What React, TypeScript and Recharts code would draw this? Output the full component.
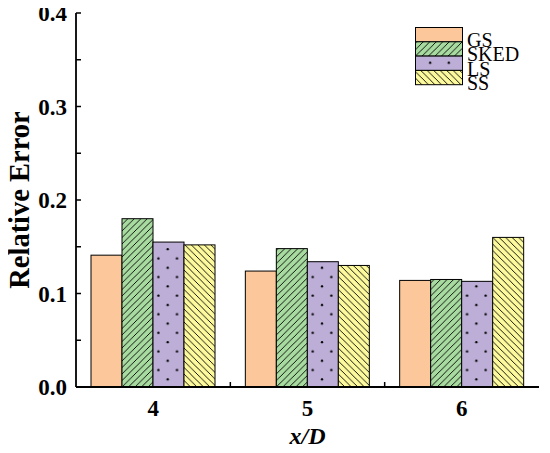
import React from 'react';
import { BarChart, Bar, XAxis, YAxis, Legend } from 'recharts';

// x/D stations
const categories = ['4', '5', '6'];

// relative error per model
const gsValues = [0.141, 0.124, 0.114];
const skedValues = [0.180, 0.148, 0.115];
const lsValues = [0.155, 0.134, 0.113];
const ssValues = [0.152, 0.130, 0.160];

const seriesNames = ['GS', 'SKED', 'LS', 'SS'];
const yTicks = [0, 0.05, 0.1, 0.15, 0.2, 0.25, 0.3, 0.35, 0.4];

const FONT = '"Liberation Serif", "Times New Roman", serif';

const fills: Record<string, string> = {
  GS: '#FCC79A',
  SKED: 'url(#pat-sked)',
  LS: 'url(#pat-ls)',
  SS: 'url(#pat-ss)',
};

const data = categories.map((c, i) => ({
  x: c,
  GS: gsValues[i],
  SKED: skedValues[i],
  LS: lsValues[i],
  SS: ssValues[i],
}));

function Patterns() {
  return (
    <defs>
      <pattern id="pat-sked" patternUnits="userSpaceOnUse" width={6.5} height={6.5}>
        <rect width={6.5} height={6.5} fill="#A8DBA0" />
        <path d="M-1,1 L1,-1 M0,6.5 L6.5,0 M5.5,7.5 L7.5,5.5" stroke="#000" strokeWidth={0.9} />
      </pattern>
      <pattern id="pat-ss" patternUnits="userSpaceOnUse" width={6.5} height={6.5}>
        <rect width={6.5} height={6.5} fill="#FDFA9E" />
        <path d="M-1,5.5 L1,7.5 M0,0 L6.5,6.5 M5.5,-1 L7.5,1" stroke="#000" strokeWidth={0.9} />
      </pattern>
      <pattern id="pat-ls" patternUnits="userSpaceOnUse" width={18.6} height={18.6}>
        <rect width={18.6} height={18.6} fill="#BCAED6" />
        <circle cx={14.7} cy={10.9} r={1.2} fill="#000" />
        <circle cx={5.4} cy={1.6} r={1.2} fill="#000" />
      </pattern>
    </defs>
  );
}

// draw bar in a frame anchored at its bottom-left so patterns line up per bar
function PatternBar(props: any) {
  const { x, y, width, height, fill } = props;
  if (!height || height <= 0) return null;
  return (
    <g transform={`translate(${x},${y + height})`}>
      <rect x={0} y={-height} width={width} height={height} fill={fill} stroke="#000" strokeWidth={1} />
    </g>
  );
}

function LeftTick(props: any) {
  const { x, y, payload } = props;
  const major = Math.abs(Math.round(payload.value * 10) - payload.value * 10) < 1e-6;
  return (
    <g>
      <line x1={x} x2={x + 5} y1={y} y2={y} stroke="#000" strokeWidth={1.5} />
      {major && (
        <text x={x - 9} y={y + 8} textAnchor="end" fontFamily={FONT} fontWeight="bold" fontSize={23} fill="#000">
          {payload.value.toFixed(1)}
        </text>
      )}
    </g>
  );
}

function RightTick(props: any) {
  const { x, y } = props;
  return <line x1={x} x2={x - 5} y1={y} y2={y} stroke="#000" strokeWidth={1.5} />;
}

function BottomTick(props: any) {
  const { x, y, payload, index } = props;
  const half = payload.offset || 77;
  return (
    <g>
      {index < categories.length - 1 && (
        <line x1={x + half} x2={x + half} y1={y} y2={y - 5} stroke="#000" strokeWidth={1.5} />
      )}
      <text x={x} y={y + 29} textAnchor="middle" fontFamily={FONT} fontWeight="bold" fontSize={23} fill="#000">
        {payload.value}
      </text>
    </g>
  );
}

function TopTick(props: any) {
  const { x, y, payload, index } = props;
  const half = payload.offset || 77;
  return (
    <g>
      <line x1={x} x2={x} y1={y} y2={y + 5} stroke="#000" strokeWidth={1.5} />
      {index < categories.length - 1 && (
        <line x1={x + half} x2={x + half} y1={y} y2={y + 5} stroke="#000" strokeWidth={1.5} />
      )}
    </g>
  );
}

function LegendBox() {
  const rowH = 14.3;
  return (
    <svg width={130} height={80} style={{ overflow: 'visible' }}>
      {seriesNames.map((name, i) => (
        <g key={name}>
          <g transform={`translate(0.5,${i * rowH + rowH + 0.5})`}>
            <rect x={0} y={-rowH} width={47} height={rowH} fill={fills[name]} stroke="#000" strokeWidth={1} />
          </g>
          <text x={52} y={i * rowH + 20} fontFamily={FONT} fontSize={20} fill="#000">
            {name}
          </text>
        </g>
      ))}
    </svg>
  );
}

export default function App() {
  const axisLine = { stroke: '#000', strokeWidth: 1.8 };
  return (
    <div style={{ margin: -8, width: 550, height: 453, background: '#fff', position: 'relative' }}>
      <BarChart
        width={550}
        height={453}
        data={data}
        margin={{ top: 13, right: 11, bottom: 0, left: 0 }}
        barCategoryGap={15}
        barGap={0}
      >
        <Patterns />
        <XAxis
          xAxisId="b"
          dataKey="x"
          height={66}
          axisLine={axisLine}
          tickLine={false}
          tickSize={0}
          tickMargin={0}
          tick={<BottomTick />}
          label={{
            value: 'x/D',
            position: 'insideBottom',
            offset: 9,
            fontFamily: FONT,
            fontSize: 24,
            fontWeight: 'bold',
            fontStyle: 'italic',
            fill: '#000',
          }}
        />
        <XAxis
          xAxisId="t"
          dataKey="x"
          orientation="top"
          height={0}
          axisLine={axisLine}
          tickLine={false}
          tickSize={0}
          tickMargin={0}
          tick={<TopTick />}
        />
        <YAxis
          yAxisId="l"
          width={76}
          domain={[0, 0.4]}
          ticks={yTicks}
          interval={0}
          axisLine={axisLine}
          tickLine={false}
          tickSize={0}
          tickMargin={0}
          tick={<LeftTick />}
          label={{
            value: 'Relative Error',
            angle: -90,
            position: 'insideLeft',
            offset: 19,
            fontFamily: FONT,
            fontSize: 28.5,
            fontWeight: 'bold',
            fill: '#000',
            style: { textAnchor: 'middle' },
          }}
        />
        <YAxis
          yAxisId="r"
          orientation="right"
          width={0}
          domain={[0, 0.4]}
          ticks={yTicks}
          interval={0}
          axisLine={axisLine}
          tickLine={false}
          tickSize={0}
          tickMargin={0}
          tick={<RightTick />}
        />
        <Legend
          layout="vertical"
          align="center"
          verticalAlign="middle"
          wrapperStyle={{ left: 415, top: 27, width: 130, height: 80 }}
          content={() => <LegendBox />}
        />
        {seriesNames.map((name) => (
          <Bar
            key={name}
            dataKey={name}
            xAxisId="b"
            yAxisId="l"
            fill={fills[name]}
            shape={<PatternBar />}
            isAnimationActive={false}
          />
        ))}
      </BarChart>
    </div>
  );
}
